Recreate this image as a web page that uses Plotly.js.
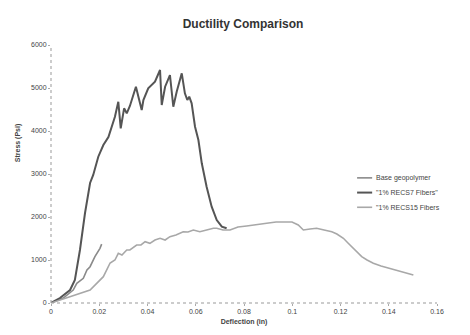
<!DOCTYPE html>
<html>
<head>
<meta charset="utf-8">
<script src="https://cdn.plot.ly/plotly-3.0.1.min.js"></script>
<style>
  html, body { margin: 0; padding: 0; background: #fff; }
  #chart { width: 470px; height: 335px; }
</style>
</head>
<body>
<div id="chart"></div>
<script>
// Load-deflection curves, deflection in inches, stress in psi
const seriesNames = ["Base geopolymer", "\"1% RECS7 Fibers\"", "\"1% RECS15 Fibers"];
const seriesColors = ["#8a8a8a", "#555555", "#a8a8a8"];

const baseDefl   = [0, 0.0051, 0.0092, 0.0107, 0.0134, 0.0149, 0.0162, 0.0175, 0.0182, 0.0203, 0.0210];
const baseStress = [0, 116, 302, 458, 574, 767, 844, 1000, 1077, 1272, 1370];

const recs7Defl = [0, 0.0037, 0.0079, 0.0099, 0.0120, 0.0141, 0.0162, 0.0175, 0.0196, 0.0217, 0.0238,
  0.0265, 0.0279, 0.0289, 0.0303, 0.0314, 0.0327, 0.0352, 0.0376, 0.0383, 0.0403, 0.0431, 0.0452,
  0.0459, 0.0473, 0.0493, 0.0507, 0.0521, 0.0542, 0.0555, 0.0565, 0.0573, 0.0583, 0.0597, 0.0611,
  0.0625, 0.0645, 0.0666, 0.0687, 0.0708, 0.0728];
const recs7Stress = [0, 116, 302, 535, 1233, 2093, 2791, 2977, 3402, 3674, 3860,
  4333, 4681, 4063, 4528, 4412, 4581, 5030, 4488, 4721, 4993, 5147, 5419,
  4605, 5030, 5302, 4565, 4914, 5342, 4877, 4721, 4798, 4644, 4100, 3791,
  3249, 2705, 2240, 1930, 1774, 1737];

const recs15Defl = [0, 0.0079, 0.0162, 0.0217, 0.0245, 0.0265, 0.0279, 0.0294, 0.0314, 0.0327, 0.0355,
  0.0373, 0.0390, 0.0410, 0.0431, 0.0452, 0.0473, 0.0493, 0.0518, 0.0548, 0.0568, 0.0590, 0.0617,
  0.0645, 0.0673, 0.0687, 0.0713, 0.0742, 0.0775, 0.0811, 0.0850, 0.0894, 0.0933, 0.0977, 0.0999,
  0.1025, 0.1046, 0.1074, 0.1101, 0.1132, 0.1164, 0.1185, 0.1212, 0.1231, 0.1253, 0.1288, 0.1310,
  0.1336, 0.1368, 0.1405, 0.1447, 0.1502];
const recs15Stress = [0, 147, 302, 612, 930, 1000, 1156, 1116, 1233, 1233, 1349,
  1349, 1426, 1388, 1465, 1505, 1465, 1542, 1581, 1658, 1651, 1698, 1658,
  1698, 1737, 1737, 1698, 1698, 1767, 1791, 1814, 1853, 1884, 1891, 1884,
  1814, 1698, 1721, 1737, 1698, 1658, 1605, 1505, 1395, 1272, 1077, 1000,
  923, 860, 807, 744, 651];

const xTicks = [0, 0.02, 0.04, 0.06, 0.08, 0.1, 0.12, 0.14, 0.16];
const xTickText = ["0", "0.02", "0.04", "0.06", "0.08", "0.1", "0.12", "0.14", "0.16"];
const yTicks = [0, 1000, 2000, 3000, 4000, 5000, 6000];

const font = "Liberation Sans, Arial, sans-serif";

const traces = [
  { x: baseDefl, y: baseStress, name: seriesNames[0], mode: "lines",
    line: { color: seriesColors[0], width: 1.6 } },
  { x: recs7Defl, y: recs7Stress, name: seriesNames[1], mode: "lines",
    line: { color: seriesColors[1], width: 2 } },
  { x: recs15Defl, y: recs15Stress, name: seriesNames[2], mode: "lines",
    line: { color: seriesColors[2], width: 1.6 } }
];

// Compact key: short line sample plus label per series, tighter rows than the built-in legend allows
const keyTop = 0.485, keyStep = 0.057, keyX0 = 0.793, keyX1 = 0.832;
const keyShapes = seriesNames.map((n, i) => ({
  type: "line", xref: "paper", yref: "paper",
  x0: keyX0, x1: keyX1, y0: keyTop - i * keyStep, y1: keyTop - i * keyStep,
  line: { color: seriesColors[i], width: i === 1 ? 2 : 1.6 }
}));
const keyLabels = seriesNames.map((n, i) => ({
  text: n, xref: "paper", yref: "paper", x: keyX1 + 0.004, y: keyTop - i * keyStep,
  xanchor: "left", yanchor: "middle", showarrow: false,
  font: { family: font, size: 7, color: "#444" }
}));

const layout = {
  width: 470, height: 335,
  margin: { l: 51, r: 33, t: 45, b: 32 },
  paper_bgcolor: "#fff", plot_bgcolor: "#fff",
  showlegend: false,
  title: { text: "<b>Ductility Comparison</b>", x: 0.517, xanchor: "center", y: 0.93, yanchor: "middle",
    font: { family: font, size: 12, color: "#333" } },
  xaxis: {
    range: [0, 0.16], tickvals: xTicks, ticktext: xTickText,
    showgrid: false, zeroline: false, showline: false,
    ticks: "outside", ticklen: 2, tickcolor: "#aaa",
    tickfont: { family: font, size: 7, color: "#444" },
    title: { text: "<b>Deflection (in)</b>", standoff: 4, font: { family: font, size: 7, color: "#444" } }
  },
  yaxis: {
    range: [0, 6000], tickvals: yTicks,
    showgrid: false, zeroline: false, showline: false,
    ticks: "outside", ticklen: 2, tickcolor: "#aaa",
    tickfont: { family: font, size: 7, color: "#444" }
  },
  shapes: [
    { type: "line", xref: "paper", yref: "paper", x0: 0, x1: 1, y0: 0, y1: 0,
      line: { color: "#999", width: 1, dash: "dot" } },
    { type: "line", xref: "paper", yref: "paper", x0: 0, x1: 0, y0: 0, y1: 1,
      line: { color: "#999", width: 1, dash: "dot" } }
  ].concat(keyShapes),
  annotations: [
    { text: "<b>Stress (Psi)</b>", textangle: -90, xref: "paper", yref: "paper",
      x: -0.085, y: 0.62, xanchor: "center", yanchor: "middle", showarrow: false,
      font: { family: font, size: 7, color: "#444" } }
  ].concat(keyLabels)
};

Plotly.newPlot("chart", traces, layout, { displayModeBar: false, staticPlot: true });
</script>
</body>
</html>
